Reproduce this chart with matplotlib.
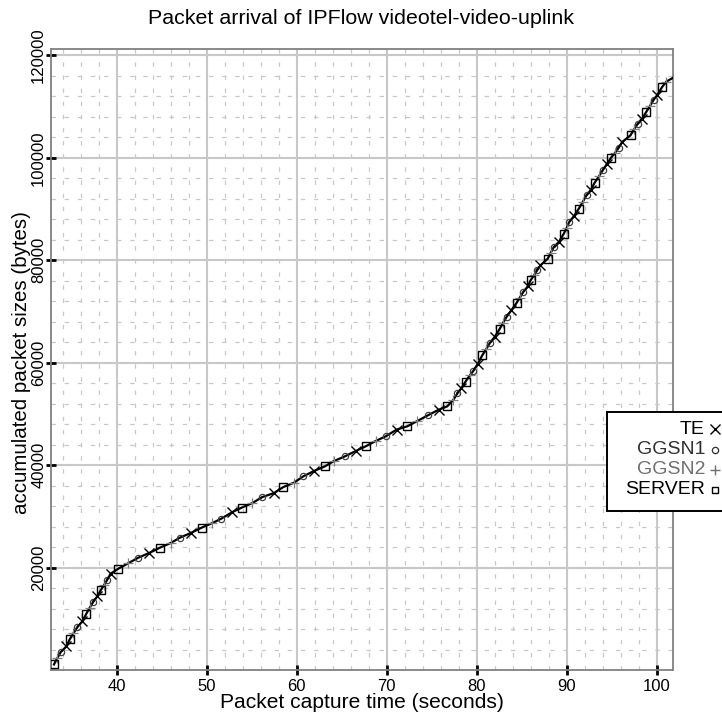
import matplotlib
matplotlib.use("Agg")
import matplotlib.pyplot as plt
from matplotlib.patches import Rectangle
from matplotlib.ticker import MultipleLocator, FixedLocator
from matplotlib.lines import Line2D

plt.rcParams['font.family'] = ['Liberation Sans', 'DejaVu Sans']

# Packet arrival samples (capture time in s, accumulated bytes)
te_time = [34.41, 36.18, 37.85, 39.33, 43.59, 48.22, 52.86, 57.48, 61.92, 66.56,
           71.11, 75.81, 78.30, 80.15, 82.00, 83.86, 85.70, 87.10, 89.14, 90.81,
           92.67, 94.52, 96.19, 98.41, 100.07]
te_bytes = [4610, 9490, 14370, 18810, 22830, 26740, 30840, 34550, 38850, 42750,
            46930, 50840, 55000, 59820, 65020, 70230, 74920, 79020, 83570, 88590,
            93670, 98890, 103110, 107680, 112230]

ggsn1_time = [33.78, 35.63, 37.37, 38.96, 42.40, 47.03, 51.63, 56.19, 60.74, 65.37,
              69.89, 74.59, 77.86, 79.63, 81.48, 83.33, 85.19, 86.74, 88.59, 90.30,
              92.22, 94.07, 95.81, 97.92, 99.70, 102.30]
ggsn1_bytes = [3500, 8380, 13260, 17640, 21930, 25840, 29550, 33770, 37810, 41720,
               45620, 49730, 54000, 58380, 63850, 68930, 73810, 78050, 82600, 87480,
               92700, 97710, 102010, 106700, 111390, 116100]

ggsn2_time = [33.40, 35.20, 37.00, 38.60, 41.30, 46.00, 50.63, 55.08, 59.70, 64.15,
              68.78, 73.41, 77.40, 79.26, 81.05, 82.95, 84.80, 86.40, 88.25, 90.00,
              91.80, 93.60, 95.40, 97.50, 99.30, 101.10]
ggsn2_bytes = [2300, 7180, 12130, 16600, 20860, 24790, 28690, 32600, 36580, 40800,
               44710, 48610, 52700, 57540, 62600, 67800, 72700, 77100, 81500, 86300,
               91400, 96400, 101000, 105550, 110200, 114900]

server_time = [33.03, 34.78, 36.63, 38.22, 40.19, 44.81, 49.44, 53.89, 58.52, 63.15,
               67.67, 72.30, 76.74, 78.78, 80.63, 82.59, 84.44, 86.00, 87.92, 89.70,
               91.37, 93.11, 94.96, 97.11, 98.86, 100.63]
server_bytes = [1090, 5980, 11000, 15550, 19790, 23890, 27790, 31700, 35720, 39770,
                43670, 47580, 51480, 56330, 61440, 66660, 71660, 76090, 80330, 85220,
                90100, 95100, 100060, 104410, 108970, 113850]

series_names = ["TE", "GGSN1", "GGSN2", "SERVER"]
x_ticks = [40, 50, 60, 70, 80, 90, 100]
y_ticks = [20000, 40000, 60000, 80000, 100000, 120000]

W, H = 722, 716
fig = plt.figure(figsize=(W / 100, H / 100), dpi=100)


def fx(px):
    return px / W


def fy(py):
    return 1 - py / H


ax = fig.add_axes([fx(51), fy(670), (672.7 - 51) / W, (670 - 49.3) / H])
ax.set_xlim(32.7, 101.8)
ax.set_ylim(0, 121200)

# grid
ax.xaxis.set_major_locator(FixedLocator(x_ticks))
ax.xaxis.set_minor_locator(MultipleLocator(2))
ax.yaxis.set_major_locator(FixedLocator(y_ticks))
ax.yaxis.set_minor_locator(MultipleLocator(4000))
ax.grid(which='major', color='#c8c8c8', lw=1.5, ls='-', zorder=0)
ax.grid(which='minor', color='#c8c8c8', lw=0.9, ls=(0, (3.5, 7)), zorder=0)
ax.set_axisbelow(True)

for s in ax.spines.values():
    s.set_color('#808080')
    s.set_linewidth(1.3)

ax.tick_params(which='major', direction='inout', length=7, width=2, color='black',
               labelsize=12, pad=1)
ax.tick_params(axis='x', pad=3)
ax.tick_params(which='minor', length=0)
ax.tick_params(axis='y', labelrotation=90, pad=0)
for lab in ax.get_yticklabels():
    lab.set_va('center')

# connecting line through all captured points
all_pts = sorted(zip(te_time + ggsn1_time + ggsn2_time + server_time,
                     te_bytes + ggsn1_bytes + ggsn2_bytes + server_bytes))
ax.plot([p[0] for p in all_pts], [p[1] for p in all_pts], color='black', lw=1.6, zorder=3)

ax.plot(ggsn2_time, ggsn2_bytes, ls='none', marker='+', ms=7, mew=0.9,
        color='#808080', zorder=4)
ax.plot(ggsn1_time, ggsn1_bytes, ls='none', marker='o', ms=4.5, mew=0.9,
        mfc='none', mec='#404040', zorder=4)
ax.plot(server_time, server_bytes, ls='none', marker='s', ms=5.2, mew=1.0,
        mfc='none', mec='black', zorder=4)
ax.plot(te_time, te_bytes, ls='none', marker='x', ms=7, mew=1.0,
        color='black', zorder=5)

fig.text(fx(362), fy(703), "Packet capture time (seconds)", ha='center', va='center',
         fontsize=15.1)
fig.text(fx(22), fy(362.6), "accumulated packet sizes (bytes)", ha='center',
         va='center', rotation=90, fontsize=14.8)
fig.text(0.5, fy(18), "Packet arrival of IPFlow videotel-video-uplink",
         ha='center', va='center', fontsize=15.4)

# key box at the right edge
fig.patches.append(Rectangle((fx(607), fy(511)), fx(760) - fx(607), fy(412) - fy(511),
                             transform=fig.transFigure, fill=True, facecolor='white',
                             edgecolor='black', lw=1.4, zorder=10, clip_on=False))
key_rows = [429, 450, 469.5, 489.5]
key_colors = ['black', '#303030', '#707070', 'black']
key_markers = [('x', 7, 1.0, 'black'), ('o', 4.5, 0.9, '#303030'),
               ('+', 7, 1.0, '#707070'), ('s', 5, 1.0, 'black')]
for name, py, col, (mk, ms, mew, mc) in zip(series_names, key_rows, key_colors, key_markers):
    fig.text(fx(705), fy(py), name, ha='right', va='center', fontsize=14,
             color=col, zorder=11)
    fig.lines.append(Line2D([fx(715)], [fy(py)], transform=fig.transFigure,
                            marker=mk, ms=ms, mew=mew, mfc='none', mec=mc,
                            color=mc, ls='none', zorder=11))

fig.savefig("out.png", dpi=100)
